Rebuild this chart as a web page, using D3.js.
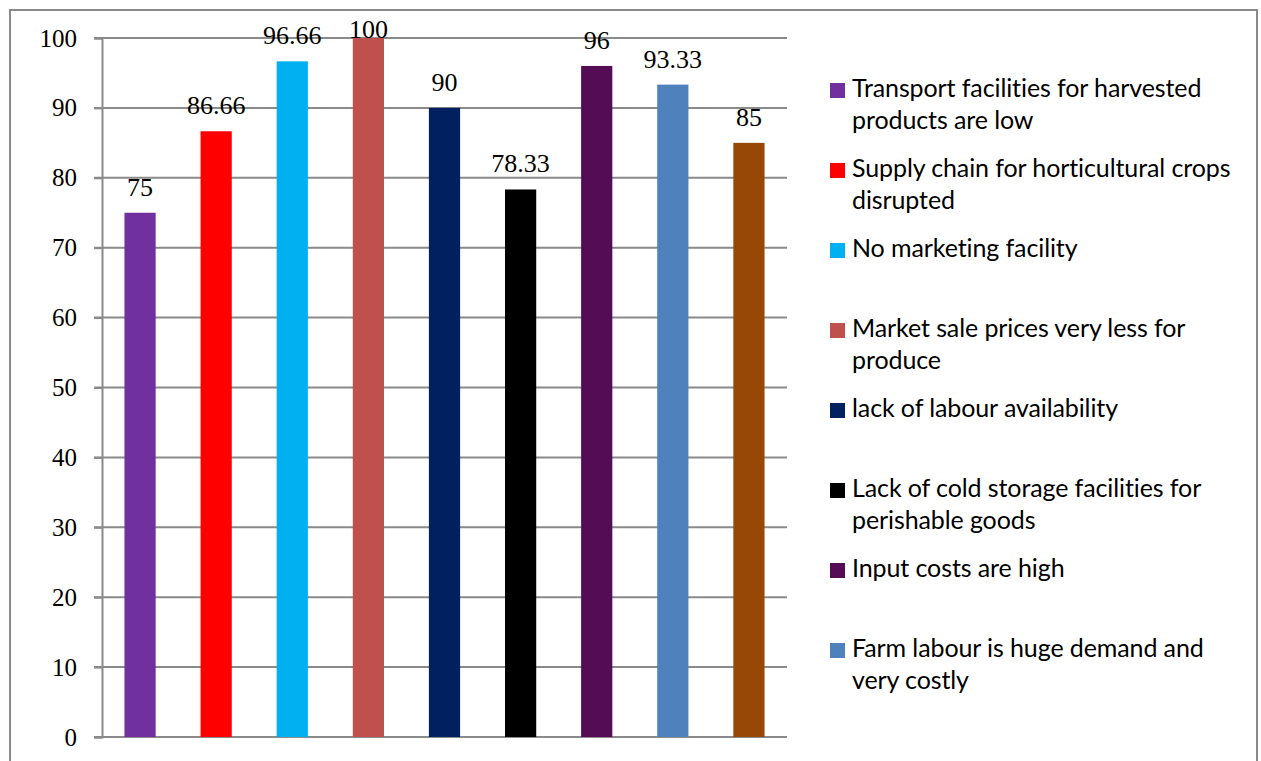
<!DOCTYPE html>
<html><head><meta charset="utf-8">
<script src="https://cdn.jsdelivr.net/npm/d3@7"></script>
<style>html,body{margin:0;padding:0;background:#fff;overflow:hidden}</style>
</head><body>
<svg id="c" width="1261" height="761"></svg>
<script>
const categories = [
  "Transport facilities for harvested products are low",
  "Supply chain for horticultural crops disrupted",
  "No marketing facility",
  "Market sale prices very less for produce",
  "lack of labour availability",
  "Lack of cold storage facilities for perishable goods",
  "Input costs are high",
  "Farm labour is huge demand and very costly",
  "(ninth item, legend entry not shown)"
];
const legendLines = [
  ["Transport facilities for harvested", "products are low"],
  ["Supply chain for horticultural crops", "disrupted"],
  ["No marketing facility"],
  ["Market sale prices very less for", "produce"],
  ["lack of labour availability"],
  ["Lack of cold storage facilities for", "perishable goods"],
  ["Input costs are high"],
  ["Farm labour is huge demand and", "very costly"]
];
const values = [75, 86.66, 96.66, 100, 90, 78.33, 96, 93.33, 85];
const valueLabels = ["75", "86.66", "96.66", "100", "90", "78.33", "96", "93.33", "85"];
const colors = ["#7030A0", "#FF0000", "#00B0F0", "#C0504D", "#002060", "#000000", "#540C54", "#4F81BD", "#974706"];
const yTicks = [0, 10, 20, 30, 40, 50, 60, 70, 80, 90, 100];

const svg = d3.select("#c");
const W = 1261, H = 761;
const plot = {left: 102, right: 787, top: 38, bottom: 737};

// outer border
svg.append("rect").attr("x", 10).attr("y", 10).attr("width", 1247).attr("height", 800)
  .attr("fill", "none").attr("stroke", "#8a8a8a").attr("stroke-width", 2);

const x = d3.scaleBand().domain(d3.range(values.length)).range([plot.left, plot.right]).paddingInner(0.59).paddingOuter(0.295);
const y = d3.scaleLinear().domain([0, 100]).range([plot.bottom, plot.top]);

// gridlines
svg.append("g").selectAll("line").data(yTicks).join("line")
  .attr("x1", plot.left - 8).attr("x2", plot.right)
  .attr("y1", d => y(d)).attr("y2", d => y(d))
  .attr("stroke", "#8a8a8a").attr("stroke-width", 2);

// y axis
const yAxis = d3.axisLeft(y).tickValues(yTicks).tickSize(8).tickPadding(17).tickFormat(d3.format("d"));
const ga = svg.append("g").attr("transform", `translate(${plot.left},0)`).call(yAxis);
ga.select(".domain").attr("stroke", "#8a8a8a").attr("stroke-width", 2);
ga.selectAll(".tick line").attr("stroke", "#8a8a8a").attr("stroke-width", 2);
ga.selectAll(".tick text").attr("font-family", "'Liberation Serif', 'Times New Roman', serif")
  .attr("font-size", 25).attr("fill", "#000");

// bars
svg.append("g").selectAll("rect").data(values).join("rect")
  .attr("x", (d, i) => x(i)).attr("width", x.bandwidth())
  .attr("y", d => y(d)).attr("height", d => y(0) - y(d))
  .attr("fill", (d, i) => colors[i]);

// value labels
svg.append("g").selectAll("text").data(values).join("text")
  .attr("x", (d, i) => x(i) + x.bandwidth() / 2)
  .attr("y", d => Math.max(y(d) - 17, y(100)))
  .attr("text-anchor", "middle")
  .attr("font-family", "'Liberation Serif', 'Times New Roman', serif")
  .attr("font-size", 26).attr("fill", "#000")
  .text((d, i) => valueLabels[i]);

// legend
const lg = svg.append("g");
legendLines.forEach((lines, i) => {
  const by = 97 + 80 * i;
  if (by > H - 10) return;
  lg.append("rect").attr("x", 830).attr("y", by - 14).attr("width", 15).attr("height", 15).attr("fill", colors[i]);
  lines.forEach((t, j) => {
    lg.append("text").attr("x", 852).attr("y", by + 31.5 * j)
      .attr("font-family", "Lato, 'Open Sans', sans-serif").attr("font-size", 25)
      .attr("letter-spacing", -0.1).attr("fill", "#000").text(t);
  });
});
</script>
</body></html>
